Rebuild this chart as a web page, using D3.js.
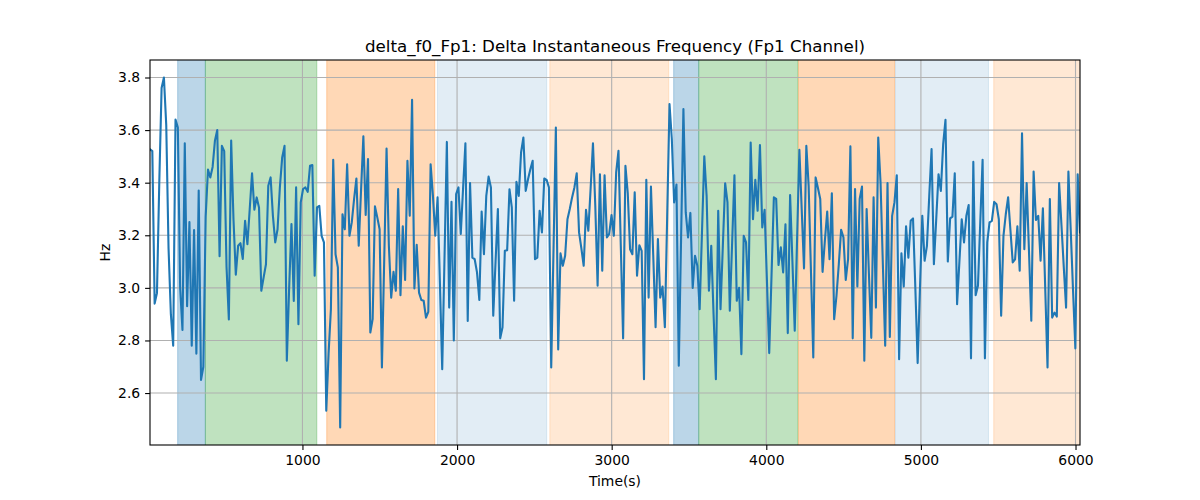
<!DOCTYPE html>
<html>
<head>
<meta charset="utf-8">
<script src="https://cdn.jsdelivr.net/npm/d3@7"></script>
<style>
  html, body { margin: 0; padding: 0; background: #ffffff; }
  svg { display: block; font-family: "DejaVu Sans", sans-serif; }
</style>
</head>
<body>
<svg id="chart" width="1200" height="500"></svg>
<script>
// ---- data ----
const startTime = 14;      // seconds, first sample
const sampleStep = 15;     // seconds between samples
const values = [
  // 14 .. ~620
  3.527,3.52,2.94,2.98,3.40,3.76,3.80,3.62,3.15,2.90,2.78,3.64,3.61,3.00,2.84,3.55,2.93,3.25,2.78,3.22,
  2.75,3.37,2.65,2.70,3.27,3.45,3.42,3.46,3.56,3.60,3.12,3.54,3.52,3.08,2.88,3.56,3.26,3.05,3.16,3.17,3.11,
  // ~630 .. ~1240
  3.255,3.166,3.30,3.436,3.297,3.344,3.306,2.989,3.04,3.09,3.388,3.42,3.274,3.173,3.223,3.382,3.496,3.54,2.723,3.0,
  3.243,2.95,3.382,2.862,3.325,3.376,3.382,3.365,3.464,3.467,3.046,3.306,3.312,3.198,3.173,2.533,2.75,2.919,3.487,3.128,3.078,2.469,
  // ~1260 .. ~1860
  3.28,3.223,3.47,3.198,3.249,3.338,3.416,3.16,3.37,3.576,3.277,3.49,2.83,2.881,3.31,3.268,3.223,2.697,3.11,3.53,
  3.16,2.963,3.061,2.989,3.376,2.972,3.234,3.03,3.483,3.274,3.715,2.998,3.164,2.982,2.954,2.951,2.887,2.909,3.47,3.35,3.198,
  // ~1880 .. ~2480
  3.344,3.02,2.691,3.12,3.555,2.925,3.327,2.8,3.357,3.382,3.205,3.38,3.55,2.874,3.399,3.115,3.109,3.059,2.954,3.29,
  3.128,3.35,3.423,3.382,2.894,3.10,3.3,2.808,2.85,3.141,3.143,3.375,3.306,2.951,3.403,3.35,3.515,3.572,3.369,3.413,3.451,
  // ~2500 .. ~3100
  3.483,3.109,3.115,3.293,3.211,3.416,3.411,3.382,2.697,3.15,3.61,2.766,3.131,3.084,3.122,3.261,3.3,3.344,3.382,3.436,
  3.211,3.15,3.084,3.297,3.217,3.38,3.55,3.312,3.008,3.432,3.065,3.428,3.192,3.205,3.277,3.198,3.439,3.521,3.16,2.808,3.464,
  // ~3120 .. ~3720
  3.36,3.147,3.128,3.363,3.046,3.162,3.141,2.653,3.411,2.963,3.385,3.12,2.85,3.186,2.963,3.005,2.85,3.27,3.699,3.566,
  3.325,3.393,2.704,3.19,3.68,3.287,3.192,3.285,3.0,3.122,3.084,2.919,3.21,3.5,3.35,2.989,3.16,2.90,2.653,3.293,2.919,
  // ~3730 .. ~4340
  3.16,3.398,3.325,2.913,3.17,3.428,2.951,3.0,2.748,3.198,3.173,2.954,3.553,3.261,3.411,3.293,3.543,3.23,3.297,3.03,
  2.752,3.05,3.344,3.338,3.087,3.154,3.059,3.242,2.828,3.353,3.10,2.837,3.18,3.525,3.30,3.074,3.54,3.388,3.06,2.735,3.42,
  // ~4350 .. ~4960
  3.38,3.338,3.061,3.18,3.29,3.109,3.36,2.881,2.97,3.09,3.221,3.192,3.03,3.109,3.538,2.808,3.376,3.005,3.338,3.385,
  2.723,3.3,3.05,2.81,3.344,2.925,3.572,3.40,3.09,2.78,3.399,2.813,3.274,3.325,3.428,2.729,3.131,3.005,3.234,3.115,3.255,
  // ~4980 .. ~5560
  3.264,3.0,2.714,3.0,3.274,3.103,3.16,3.35,3.528,3.09,3.26,3.432,3.369,3.547,3.639,3.1,3.264,3.271,3.436,2.938,
  3.10,3.261,3.173,3.274,3.315,2.732,3.479,2.972,3.008,3.25,3.487,2.732,3.173,3.249,3.255,3.327,3.318,3.261,2.894,3.198,
  // ~5580 .. 6029
  3.28,3.344,3.22,3.097,3.108,3.234,3.065,3.588,3.147,3.399,3.14,2.875,3.442,3.258,3.274,3.103,3.303,3.00,2.697,3.338,
  2.887,2.906,2.891,3.399,3.24,3.08,2.925,3.442,3.22,2.99,2.77,3.432,3.211
];

// shaded intervals (seconds) and their kinds
const spanStarts = [193, 372, 1157, 1873, 2600, 3401, 3563, 4208, 4835, 5471];
const spanEnds   = [372, 1093, 1856, 2580, 3369, 3563, 4204, 4830, 5437, 6040];
const spanKinds  = ["blue", "green", "orange", "lightblue", "lightorange",
                    "blue", "green", "orange", "lightblue", "lightorange"];

const xTicks = [1000, 2000, 3000, 4000, 5000, 6000];
const yTicks = [2.6, 2.8, 3.0, 3.2, 3.4, 3.6, 3.8];

const titleText = "delta_f0_Fp1: Delta Instantaneous Frequency (Fp1 Channel)";
const xLabel = "Time(s)";
const yLabel = "Hz";

// ---- styling ----
const spanStyle = {
  blue:        { c: "#1f77b4", a: 0.30 },
  green:       { c: "#2ca02c", a: 0.30 },
  orange:      { c: "#ff7f0e", a: 0.30 },
  lightblue:   { c: "#1f77b4", a: 0.13 },
  lightorange: { c: "#ff7f0e", a: 0.175 }
};

const W = 1200, H = 500;
const margin = { left: 150, right: 120, top: 60, bottom: 55 };
const x0 = margin.left, x1 = W - margin.right, y0 = margin.top, y1 = H - margin.bottom;

const points = values.map((v, i) => ({ t: startTime + i * sampleStep, v }));
const tMin = points[0].t, tMax = points[points.length - 1].t;
const vMin = d3.min(values), vMax = d3.max(values);
const pad = (vMax - vMin) * 0.05;

const x = d3.scaleLinear().domain([tMin, tMax]).range([x0, x1]);
const y = d3.scaleLinear().domain([vMin - pad, vMax + pad]).range([y1, y0]);

const svg = d3.select("#chart");

svg.append("defs").append("clipPath").attr("id", "plotclip")
  .append("rect").attr("x", x0).attr("y", y0).attr("width", x1 - x0).attr("height", y1 - y0);

const plot = svg.append("g").attr("clip-path", "url(#plotclip)");

// spans (face + edge with same alpha, like matplotlib axvspan)
plot.selectAll("rect.span")
  .data(spanStarts.map((s, i) => ({ s, e: spanEnds[i], k: spanKinds[i] })))
  .join("rect")
  .attr("class", "span")
  .attr("x", d => x(d.s))
  .attr("width", d => x(d.e) - x(d.s))
  .attr("y", y0 - 2)
  .attr("height", y1 - y0 + 4)
  .attr("fill", d => spanStyle[d.k].c)
  .attr("fill-opacity", d => spanStyle[d.k].a)
  .attr("stroke", d => spanStyle[d.k].c)
  .attr("stroke-opacity", d => spanStyle[d.k].a)
  .attr("stroke-width", 1);

// grid
const gridColor = "#b0b0b0";
plot.selectAll("line.xg").data(xTicks).join("line")
  .attr("x1", d => x(d)).attr("x2", d => x(d))
  .attr("y1", y0).attr("y2", y1)
  .attr("stroke", gridColor).attr("stroke-width", 1.1);
plot.selectAll("line.yg").data(yTicks).join("line")
  .attr("y1", d => y(d)).attr("y2", d => y(d))
  .attr("x1", x0).attr("x2", x1)
  .attr("stroke", gridColor).attr("stroke-width", 1.1);

// line
const line = d3.line().x(d => x(d.t)).y(d => y(d.v));
plot.append("path")
  .datum(points)
  .attr("d", line)
  .attr("fill", "none")
  .attr("stroke", "#1f77b4")
  .attr("stroke-width", 2.1)
  .attr("stroke-linejoin", "round")
  .attr("stroke-linecap", "square");

// axes
const xAxis = d3.axisBottom(x).tickValues(xTicks).tickFormat(d3.format("d"))
  .tickSizeInner(4.9).tickSizeOuter(0).tickPadding(4.9);
const yAxis = d3.axisLeft(y).tickValues(yTicks).tickFormat(d3.format(".1f"))
  .tickSizeInner(4.9).tickSizeOuter(0).tickPadding(4.9);

const gx = svg.append("g").attr("transform", `translate(0,${y1})`).call(xAxis);
const gy = svg.append("g").attr("transform", `translate(${x0},0)`).call(yAxis);
[gx, gy].forEach(g => {
  g.select(".domain").remove();
  g.selectAll(".tick line").attr("stroke", "#000").attr("stroke-width", 1.1);
  g.selectAll(".tick text").attr("fill", "#000").style("font-size", "13.9px")
    .style("font-family", "'DejaVu Sans', sans-serif");
});

// frame
svg.append("rect")
  .attr("x", x0).attr("y", y0).attr("width", x1 - x0).attr("height", y1 - y0)
  .attr("fill", "none").attr("stroke", "#000").attr("stroke-width", 1.1);

// labels
svg.append("text")
  .attr("x", (x0 + x1) / 2).attr("y", 52)
  .attr("text-anchor", "middle")
  .style("font-size", "16.7px")
  .text(titleText);

svg.append("text")
  .attr("x", (x0 + x1) / 2).attr("y", 486)
  .attr("text-anchor", "middle")
  .style("font-size", "13.9px")
  .text(xLabel);

svg.append("text")
  .attr("transform", `translate(110,${(y0 + y1) / 2}) rotate(-90)`)
  .attr("text-anchor", "middle")
  .style("font-size", "13.9px")
  .text(yLabel);
</script>
</body>
</html>
